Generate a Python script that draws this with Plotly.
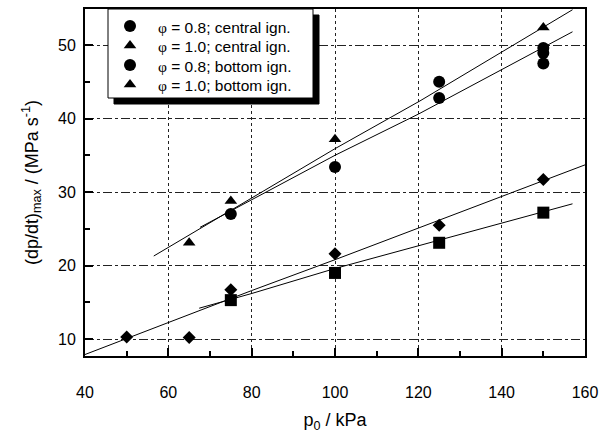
import plotly.graph_objects as go

# ---- data ----
circ_c_x = [75, 100, 125, 150]
circ_c_y = [27.0, 33.4, 45.0, 49.6]
circ_b_x = [125, 150, 150]
circ_b_y = [42.8, 48.9, 47.5]
tri_c_x = [65, 75, 100, 150]
tri_c_y = [23.1, 28.8, 37.2, 52.4]
dia_x = [50, 65, 75, 100, 125, 150]
dia_y = [10.3, 10.2, 16.7, 21.6, 25.5, 31.7]
sq_x = [75, 100, 125, 150]
sq_y = [15.3, 19.0, 23.1, 27.2]

# fitted lines (polyline vertices)
fit_tri_x = [56.5, 100, 120.4, 157]
fit_tri_y = [21.3, 35.9, 42.4, 54.8]
fit_circ_x = [67.6, 100, 120, 157]
fit_circ_y = [25.2, 35.0, 40.6, 51.8]
fit_dia_x = [40, 80, 100, 160]
fit_dia_y = [7.9, 16.6, 20.8, 33.7]
fit_sq_x = [67.4, 80, 100, 157]
fit_sq_y = [14.2, 16.2, 19.6, 28.4]

phi = "<span style=\"font-family:'Liberation Serif'\">φ</span>"
legend_labels = [phi + " = 0.8; central ign.", phi + " = 1.0; central ign.",
                 phi + " = 0.8; bottom ign.", phi + " = 1.0; bottom ign."]
legend_symbols = ["circle", "triangle-up", "circle", "triangle-up"]

fig = go.Figure()
line_style = dict(color="black", width=1)
for fx, fy in [(fit_tri_x, fit_tri_y), (fit_circ_x, fit_circ_y),
               (fit_dia_x, fit_dia_y), (fit_sq_x, fit_sq_y)]:
    fig.add_trace(go.Scatter(x=fx, y=fy, mode="lines", line=line_style,
                             showlegend=False, hoverinfo="skip"))

mk = lambda sym, s: dict(symbol=sym, size=s, color="black", opacity=1,
                         line=dict(width=0, color="black"))
fig.add_trace(go.Scatter(x=circ_c_x, y=circ_c_y, mode="markers", name="φ = 0.8; central ign.",
                         marker=mk("circle", 12)))
fig.add_trace(go.Scatter(x=tri_c_x, y=tri_c_y, mode="markers", name="φ = 1.0; central ign.",
                         marker=mk("triangle-up", 11)))
fig.add_trace(go.Scatter(x=circ_b_x, y=circ_b_y, mode="markers", name="φ = 0.8; bottom ign.",
                         marker=mk("circle", 12)))
fig.add_trace(go.Scatter(x=dia_x, y=dia_y, mode="markers", name="diamonds",
                         marker=mk("diamond", 10)))
fig.add_trace(go.Scatter(x=sq_x, y=sq_y, mode="markers", name="squares",
                         marker=mk("square", 12)))

# ---- manual legend on an overlay axis measured in pixels ----
L, R, T, B = 85, 585, 9, 356
box_x0, box_x1, box_y0, box_y1 = 108, 313, 9, 98
sh = 6
fig.add_trace(go.Scatter(x=[box_x0 + sh, box_x1 + sh, box_x1 + sh, box_x0 + sh, box_x0 + sh],
                         y=[box_y0 + sh, box_y0 + sh, box_y1 + sh, box_y1 + sh, box_y0 + sh],
                         xaxis="x2", yaxis="y2", mode="lines", fill="toself",
                         fillcolor="black", line=dict(color="black", width=1),
                         hoverinfo="skip"))
fig.add_trace(go.Scatter(x=[box_x0, box_x1, box_x1, box_x0, box_x0],
                         y=[box_y0, box_y0, box_y1, box_y1, box_y0],
                         xaxis="x2", yaxis="y2", mode="lines", fill="toself",
                         fillcolor="white", line=dict(color="black", width=1),
                         hoverinfo="skip"))
row_y = [27, 46.5, 66, 85.5]
fig.add_trace(go.Scatter(x=[130] * 4, y=[y - 1 for y in row_y], xaxis="x2", yaxis="y2",
                         mode="markers", hoverinfo="skip",
                         marker=dict(symbol=legend_symbols, size=[12, 11, 12, 11],
                                     color="black", opacity=1,
                                     line=dict(width=0, color="black"))))
for lab, y in zip(legend_labels, row_y):
    fig.add_annotation(x=156, y=y, xref="x2", yref="y2", text=lab, showarrow=False,
                       xanchor="left", yanchor="middle", font=dict(size=15.5, color="black"))

axis_common = dict(showline=True, linecolor="black", linewidth=2, mirror=True,
                   ticks="inside", tickcolor="black", tickwidth=2, ticklen=8,
                   showgrid=True, gridcolor="#222", gridwidth=1, automargin=False,
                   zeroline=False, tickfont=dict(size=16, color="black"))

fig.update_xaxes(range=[40, 160], dtick=20, tick0=40, griddash="dot",
                 ticklabelstandoff=21,
                 minor=dict(dtick=10, ticks="inside", ticklen=5, tickwidth=2,
                            tickcolor="black", showgrid=False),
                 title=dict(text="p<sub>0</sub> / kPa", font=dict(size=18, color="black"),
                            standoff=13),
                 **axis_common)
fig.update_yaxes(range=[7.7, 54.9], dtick=10, tick0=10, griddash="dashdot",
                 ticklabelstandoff=4,
                 minor=dict(dtick=5, ticks="inside", ticklen=5, tickwidth=2,
                            tickcolor="black", showgrid=False),
                 title=dict(text="(dp/dt)<sub>max</sub> / (MPa s<sup>-1</sup>)",
                            font=dict(size=18, color="black"), standoff=15),
                 **axis_common)

fig.update_layout(
    width=606, height=443,
    margin=dict(l=L, r=606 - R, t=T, b=443 - B),
    paper_bgcolor="white", plot_bgcolor="white",
    showlegend=False, hovermode=False,
    font=dict(family="Liberation Sans, Arial, sans-serif", color="black"),
    xaxis2=dict(overlaying="x", range=[L, R], visible=False, automargin=False),
    yaxis2=dict(overlaying="y", range=[B, T], visible=False, automargin=False),
)

fig.write_html("out.html", config={"displayModeBar": False, "staticPlot": True},
               post_script="document.body.style.margin='0';document.body.style.padding='0';")
